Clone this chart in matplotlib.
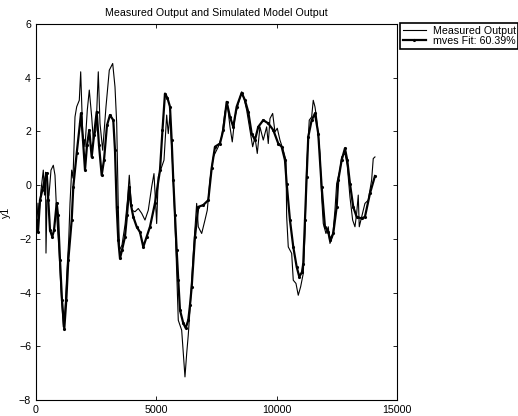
import matplotlib
matplotlib.use("Agg")
import matplotlib.pyplot as plt

plt.rcParams['font.family'] = ['Liberation Sans', 'DejaVu Sans']
plt.rcParams['font.size'] = 7.7

# simulated model output
model_x = [29, 83, 166, 262, 332, 445, 511, 582, 677, 748, 860, 914, 997, 1080, 1176,
           1259, 1342, 1483, 1550, 1691, 1828, 1870, 1952, 2036, 2119, 2214, 2314, 2410,
           2522, 2617, 2729, 2825, 2950, 3074, 3211, 3282, 3353, 3419, 3490, 3573, 3697,
           3781, 3876, 3947, 4042, 4184, 4321, 4458, 4599, 4736, 4944, 5152, 5255, 5359,
           5463, 5567, 5637, 5704, 5775, 5845, 5912, 5982, 6119, 6219, 6327, 6398, 6469,
           6606, 6743, 6951, 7158, 7299, 7437, 7644, 7781, 7923, 8060, 8197, 8338, 8546,
           8683, 8820, 8961, 9098, 9235, 9443, 9651, 9859, 10066, 10207, 10345, 10416,
           10552, 10690, 10831, 10939, 11051, 11105, 11176, 11246, 11313, 11454, 11591,
           11728, 11869, 12006, 12144, 12214, 12351, 12493, 12559, 12700, 12837, 12933,
           13045, 13182, 13324, 13531, 13668, 13876, 14084]
model_y = [-1.3, -1.75, -0.56, -0.19, 0.07, 0.45, -0.56, -1.68, -1.92, -1.68, -0.67, -1.12,
           -2.79, -4.28, -5.34, -4.28, -2.79, -1.3, -0.06, 1.19, 2.31, 2.67, 1.68, 0.56,
           1.49, 2.05, 1.05, 1.86, 2.73, 1.49, 0.37, 0.93, 2.23, 2.61, 2.42, 1.3, -0.81,
           -2.05, -2.73, -2.42, -1.92, -1.12, -0.06, -0.74, -1.18, -1.55, -1.75, -2.3,
           -1.92, -1.55, -0.67, 0.56, 2.05, 3.41, 3.24, 2.92, 1.68, 0.19, -1.12, -2.42,
           -3.54, -4.65, -5.14, -5.32, -5.03, -4.47, -3.79, -1.92, -0.81, -0.74, -0.56,
           0.63, 1.43, 1.55, 2.05, 3.1, 2.54, 2.17, 2.92, 3.44, 3.16, 2.73, 1.92, 1.68,
           2.17, 2.42, 2.3, 2.05, 1.55, 1.43, 0.93, 0.06, -1.3, -2.3, -3.04, -3.41, -3.24,
           -2.92, -1.3, 0.31, 1.8, 2.42, 2.67, 1.92, -0.06, -1.55, -1.74, -2.05, -1.8,
           -0.81, 0.19, 0.93, 1.37, 0.93, 0.06, -0.81, -1.18, -1.24, -1.18, -0.31, 0.34]

# measured output
meas_x = [29, 83, 125, 208, 303, 353, 395, 415, 457, 540, 623, 719, 789, 872, 956, 1039,
          1134, 1205, 1288, 1359, 1413, 1483, 1537, 1620, 1691, 1799, 1857, 1940, 2036,
          2131, 2214, 2314, 2381, 2493, 2588, 2659, 2771, 2908, 3045, 3187, 3282, 3353,
          3419, 3469, 3573, 3697, 3801, 3876, 3976, 4113, 4250, 4392, 4528, 4666, 4807,
          4902, 5014, 5081, 5222, 5318, 5430, 5496, 5567, 5679, 5754, 5816, 5912, 6053,
          6120, 6190, 6261, 6327, 6398, 6535, 6676, 6743, 6884, 7021, 7117, 7229, 7366,
          7574, 7715, 7852, 7948, 8060, 8155, 8267, 8405, 8546, 8641, 8754, 8891, 9003,
          9098, 9194, 9306, 9443, 9584, 9651, 9722, 9834, 9929, 10025, 10136, 10274,
          10386, 10416, 10482, 10623, 10690, 10802, 10897, 10997, 11105, 11176, 11246,
          11354, 11454, 11520, 11591, 11662, 11799, 11869, 11936, 12048, 12144, 12214,
          12326, 12422, 12493, 12630, 12700, 12837, 12933, 13045, 13157, 13253, 13324,
          13390, 13432, 13531, 13668, 13805, 13946, 14013, 14084]
meas_y = [-1.55, -0.67, -1.12, -0.19, 0.56, -0.37, 0.48, -2.53, -0.56, -0.37, 0.56, 0.74,
          0.37, -1.3, -2.42, -3.91, -5.28, -4.65, -3.16, -2.05, -0.67, 0.56, 0.26, 2.54,
          2.92, 3.16, 4.22, 1.92, 1.43, 2.79, 3.54, 2.54, 1.68, 2.05, 4.22, 2.3, 1.3,
          2.92, 4.28, 4.53, 3.66, 2.3, -0.81, -2.42, -2.23, -1.49, -0.56, 0.37, -0.93,
          -0.99, -0.87, -1.05, -1.3, -0.93, -0.06, 0.43, -1.43, 0.31, 0.68, 0.93, 2.61,
          1.92, 2.61, 0.68, -0.93, -2.42, -5.03, -5.4, -6.27, -7.14, -6.27, -5.58, -4.65,
          -2.54, -0.68, -1.55, -1.8, -1.3, -0.93, 0.19, 1.05, 1.43, 1.8, 2.73, 3.04,
          2.17, 1.61, 2.54, 3.04, 3.47, 3.24, 2.79, 2.05, 1.43, 1.79, 1.18, 2.17, 1.68,
          2.17, 1.55, 2.48, 2.67, 1.98, 2.12, 1.68, 1.3, 0.93, -1.18, -2.3, -2.54, -3.54,
          -3.66, -4.1, -3.78, -3.29, -1.8, 0.68, 2.42, 2.54, 3.16, 2.92, 2.48, 1.18,
          -0.44, -1.43, -1.8, -1.55, -2.17, -1.92, -0.93, 0.06, 0.56, 1.05, 1.18, 0.74,
          -0.44, -1.3, -1.55, -1.05, -0.37, -1.55, -1.18, -0.68, -0.56, 0.19, 0.99, 1.05]

fig = plt.figure(figsize=(5.18, 4.16), dpi=100)
ax = fig.add_axes([36 / 518, 1 - 400 / 416, 361 / 518, 376 / 416])

ax.plot(meas_x, meas_y, color='black', linewidth=0.8, label='Measured Output')
ax.plot(model_x, model_y, color='black', linewidth=1.6, marker='.', markersize=2.5,
        label='mves Fit: 60.39%')

ax.set_xlim(0, 15000)
ax.set_ylim(-8, 6)
ax.set_xticks([0, 5000, 10000, 15000])
ax.set_yticks(range(-8, 7, 2))
ax.tick_params(direction='in', top=True, right=True, length=3, width=0.6, labelsize=7.7)
for s in ax.spines.values():
    s.set_linewidth(0.8)

ax.set_ylabel('y1', fontsize=7.7, labelpad=6)
ax.set_title('Measured Output and Simulated Model Output', fontsize=7.7, pad=6)

leg = ax.legend(loc='upper left', bbox_to_anchor=(400 / 518, 1 - 23 / 416),
                bbox_transform=fig.transFigure, fontsize=7.7, fancybox=False,
                framealpha=1, edgecolor='black', borderaxespad=0, borderpad=0.25,
                labelspacing=0.05, handlelength=2.2, handletextpad=0.6)
leg.get_frame().set_linewidth(1.2)

fig.savefig('out.png', dpi=100)
